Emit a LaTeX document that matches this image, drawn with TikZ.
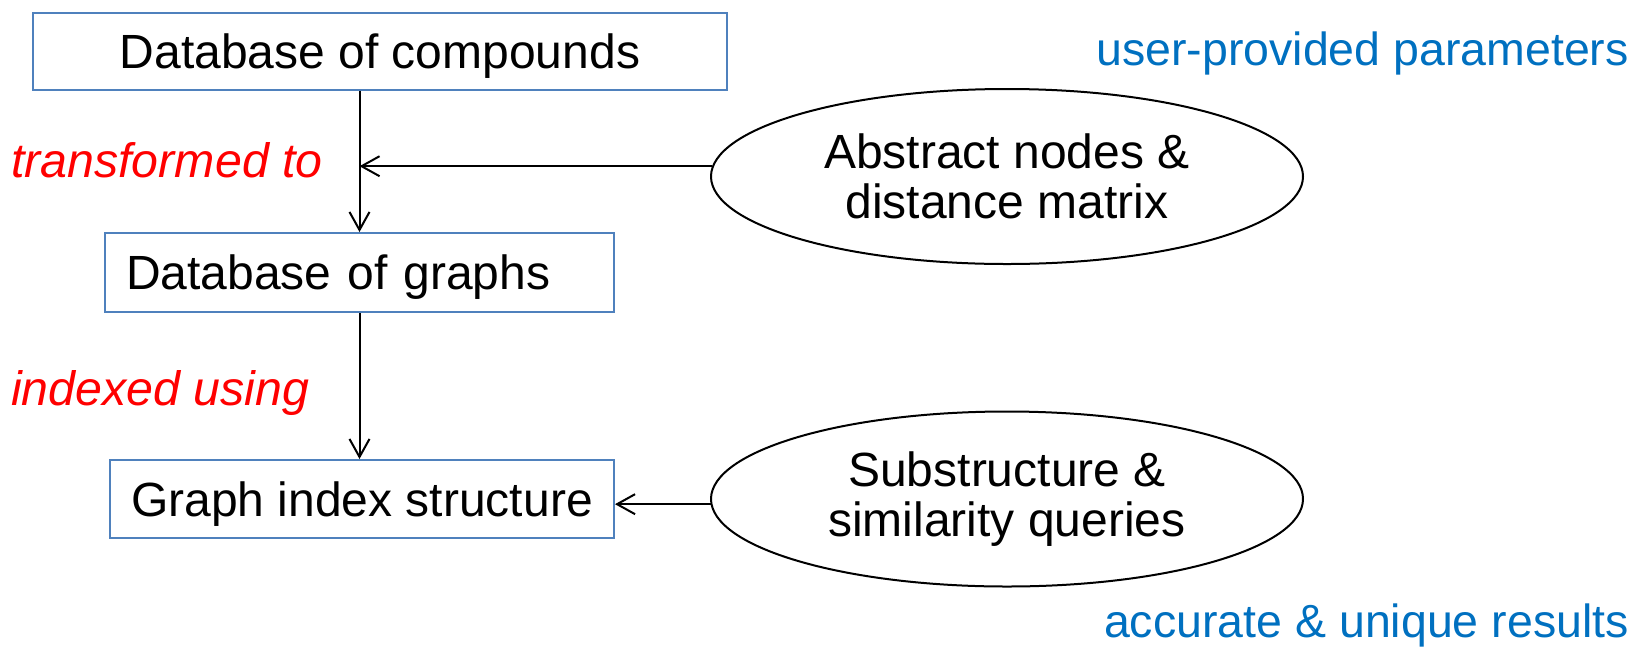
\documentclass[tikz,border=0pt]{standalone}
\usepackage{fontspec}
\setmainfont{Liberation Sans}
\usetikzlibrary{shapes.geometric,arrows.meta}
\definecolor{boxblue}{RGB}{79,129,189}
\definecolor{txtblue}{RGB}{0,112,192}
\definecolor{txtred}{RGB}{255,0,0}
\newcommand\diafont{\fontsize{48}{50}\selectfont}
\newcommand\redfont{\fontsize{48.3}{50}\selectfont\itshape}
\newcommand\bluefont{\fontsize{46.5}{50}\selectfont}
\tikzset{
  box/.style={draw=boxblue,line width=2pt,inner sep=0pt,text height=34pt,text depth=0pt,font=\diafont},
  oval/.style={draw=black,line width=2pt,ellipse,inner sep=0pt,minimum width=592pt,minimum height=175pt,align=center,font=\diafont},
  redlbl/.style={text=txtred,font=\redfont,inner sep=0pt,anchor=base west},
  bluelbl/.style={text=txtblue,font=\bluefont,inner sep=0pt,anchor=base east},
  arr/.style={draw=black,line width=2pt,-{Straight Barb[length=18pt,width=20pt,line width=2pt]}}
}
\begin{document}
\begin{tikzpicture}[x=1pt,y=-1pt]
\useasboundingbox (0,0) rectangle (1652,649);
\node[box,minimum width=694pt,minimum height=77pt] (b1) at (380,51) {Database of compounds};
\node[box,minimum height=79pt,inner xsep=21pt,text width=467pt,align=left] (b2) at (359.5,272.5) {Database of graphs};
\node[box,minimum width=504pt,minimum height=78pt] (b3) at (362,499) {Graph index structure};
\node[oval] (e1) at (1007,176.5) {Abstract nodes \&\\distance matrix};
\node[oval] (e2) at (1007,499) {Substructure \&\\similarity queries};
\node[redlbl] (l1) at (11,177) {transformed to};
\node[redlbl] (l2) at (11,405) {indexed using};
\node[bluelbl] (u1) at (1629,65) {user-provided parameters};
\node[bluelbl] (u2) at (1629,637) {accurate \& unique results};
\draw[arr] (b2.north |- b1.south) -- (b2.north);
\draw[arr] (e1.178.5) -- (e1.178.5 -| b2.north);
\draw[arr] (b2.south) -- (b2.south |- b3.north);
\draw[arr] (e2.181.4) -- (b3.east |- e2.181.4);
\end{tikzpicture}
\end{document}
